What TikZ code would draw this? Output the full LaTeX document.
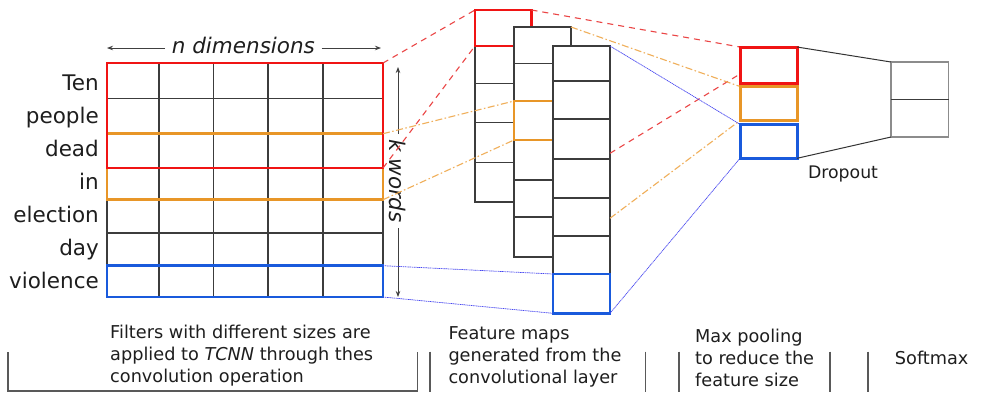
\documentclass[tikz,border=0pt]{standalone}
\usepackage{fontspec}
\setmainfont{DejaVu Sans}[ItalicFont={DejaVu Sans Oblique}]
\usetikzlibrary{arrows.meta}
\definecolor{cred}{RGB}{240,20,20}
\definecolor{corange}{RGB}{232,150,40}
\definecolor{cblue}{RGB}{25,90,220}
\definecolor{credl}{RGB}{235,70,70}
\definecolor{corl}{RGB}{240,175,90}
\definecolor{cbl}{RGB}{70,70,240}
\definecolor{gridc}{RGB}{60,60,60}
\definecolor{txt}{RGB}{30,30,30}
\begin{document}
\begin{tikzpicture}[x=1pt,y=-1pt,
  box/.style={inner sep=0pt, outer sep=0pt, anchor=north west},
  rect/.style 2 args={minimum width=#1, minimum height=#2},
  gridline/.style={draw=gridc, line width=1.1pt},
  fbox/.style={line width=2.5pt},
  pbox/.style={line width=3pt},
  fmap/.style={draw=gridc, fill=white, line width=1.3pt},
  word/.style={text=txt, inner sep=0pt, font=\fontsize{21.5}{24}\selectfont},
  capt/.style={text=txt, inner sep=0pt, anchor=base west, font=\fontsize{17.7}{22}\selectfont},
  dimarrow/.style={-{Stealth[length=6pt,width=4.5pt]}, line width=0.8pt, draw=black!75},
  reddash/.style={draw=credl, line width=1.1pt, dash pattern=on 6pt off 5pt},
  orangedd/.style={draw=corl, line width=1.1pt, dash pattern=on 7pt off 2.5pt on 1.5pt off 2.5pt},
  bluedot/.style={draw=cbl, line width=0.7pt, dash pattern=on 1.2pt off 0.6pt},
  sep/.style={draw=black!65, line width=1.2pt}
]
\useasboundingbox[fill=white] (0,0) rectangle (993,392);

% ---------- input matrix ----------
\node[box, draw=gridc, line width=1.1pt, rect={276}{234}] (grid) at (107,63) {};
\foreach \x in {159,213.7,268,323} \draw[gridline] (\x,63) -- (\x,297);
\foreach \y in {98.7,133.7,168,199.7,233,265.7} \draw[gridline] (107,\y) -- (383,\y);
\node[box, fbox, draw=corange, rect={276}{66}] (forange) at (107,133.7) {};
\node[box, fbox, draw=cred, rect={276}{105}] (fred) at (107,63) {};
\node[box, fbox, draw=cblue, rect={276}{31.3}] (fblue) at (107,265.7) {};

\foreach \w [count=\i from 0] in {Ten,people,dead,in,election,day,violence}
  \node[word, anchor=base east] (w\i) at (99,{90+33.05*\i}) {\w};

% n dimensions
\node[word, anchor=base, inner sep=6.5pt, font=\fontsize{21.5}{24}\selectfont\itshape] (ndim) at (243.4,53.5) {n dimensions};
\coordinate (nL) at (107,48);
\coordinate (nR) at (381,48);
\draw[dimarrow] (ndim.west |- nL) -- (nL);
\draw[dimarrow] (ndim.east |- nR) -- (nR);

% k words
\node[word, rotate=-90, inner sep=5pt, font=\fontsize{21.5}{24}\selectfont\itshape] (kw) at (398,181) {k words};
\coordinate (kT) at (398,67);
\coordinate (kB) at (398,297);
\draw[dimarrow] (kw.west) -- (kT);
\draw[dimarrow] (kw.east) -- (kB);

% ---------- feature maps ----------
\node[box, fmap, rect={56.5}{192}] (s1) at (475,10) {};
\foreach \y in {46,83.3,122.7,162.7} \draw[gridline] (475,\y) -- (531.5,\y);
\node[box, fbox, draw=cred, rect={56.5}{36}] (s1r) at (475,10) {};

\node[box, fmap, rect={57}{230}] (s2) at (514,27) {};
\foreach \y in {63.3,101,140,180,217} \draw[gridline] (514,\y) -- (571,\y);
\node[box, fbox, draw=corange, rect={57}{39}] (s2o) at (514,101) {};

\node[box, fmap, rect={57}{267.3}] (s3) at (553,46) {};
\foreach \y in {81,119,159,198,236,274} \draw[gridline] (553,\y) -- (610,\y);
\node[box, fbox, draw=cblue, rect={57}{39.3}] (s3b) at (553,274) {};

% ---------- max pooling & softmax ----------
\node[box, rect={57}{36}] (pred) at (740,47) {};
\node[box, rect={57}{34}] (porange) at (740,86.5) {};
\node[box, rect={57}{34}] (pblue) at (740,124.3) {};
\coordinate (r4s) at (610,153.3);
\coordinate (r4e) at (740,74);
\coordinate (o4s) at (610,218.3);

% ---------- connectors ----------
\draw[reddash] (fred.north east) -- (s1r.north west);
\draw[reddash] (fred.south east) -- (s1r.south west);
\draw[reddash] (s1r.north east) -- (pred.north west);
\draw[reddash] (r4s) -- (r4e);

\draw[orangedd] (forange.north east) -- (s2o.north west);
\draw[orangedd] (forange.south east) -- (s2o.south west);
\draw[orangedd] (s2.north east) -- (porange.north west);
\draw[orangedd] (o4s) -- (porange.south west);

\draw[bluedot] (fblue.north east) -- (s3b.north west);
\draw[bluedot] (fblue.south east) -- (s3b.south west);
\draw[bluedot] (s3.north east) -- (pblue.north west);
\draw[bluedot] (s3b.south east) -- (pblue.south west);

\draw[pbox, draw=cred] (pred.north west) rectangle (pred.south east);
\draw[pbox, draw=corange] (porange.north west) rectangle (porange.south east);
\draw[pbox, draw=cblue] (pblue.north west) rectangle (pblue.south east);

\node[box, draw=black!45, line width=1.2pt, rect={57.5}{75}] (soft) at (891,62) {};
\draw[gridline] (soft.west) -- (soft.east);
\draw[draw=black!80, line width=1pt] (pred.north east) -- (soft.north west);
\draw[draw=black!80, line width=1pt] (pblue.south east) -- (soft.south west);

\node[word, anchor=base, font=\fontsize{17.3}{22}\selectfont] (drop) at (843,178.3) {Dropout};

% ---------- captions ----------
\node[capt] (cap1) at (110,338.3) {\begin{tabular}[t]{@{}l@{}}Filters with different sizes are\\ applied to \textit{TCNN} through thes\\ convolution operation\end{tabular}};
\node[capt] (cap2) at (448.3,339.3) {\begin{tabular}[t]{@{}l@{}}Feature maps\\ generated from the\\ convolutional layer\end{tabular}};
\node[capt] (cap3) at (695,342.7) {\begin{tabular}[t]{@{}l@{}}Max pooling\\ to reduce the\\ feature size\end{tabular}};
\node[capt, anchor=base] (cap4) at (931.7,364) {Softmax};

\draw[sep] (8,352) -- (8,391) -- (417.3,391) -- (417.3,352);
\foreach \x in {430,645.7,679,830,868} \draw[sep] (\x,351.5) -- (\x,392);
\end{tikzpicture}
\end{document}
